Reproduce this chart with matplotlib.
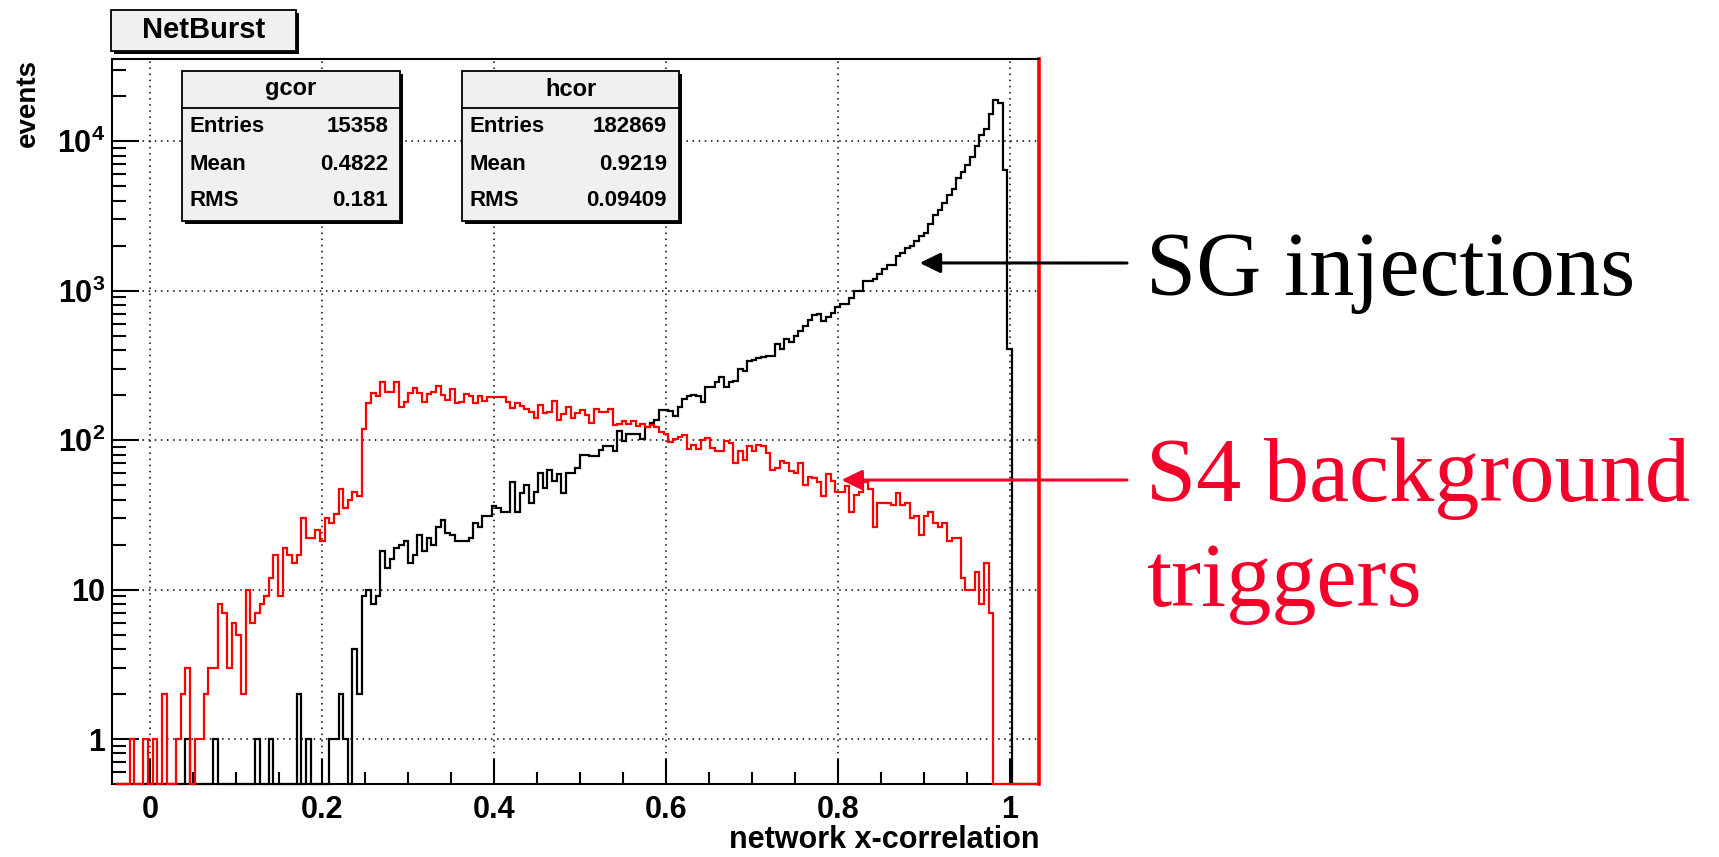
#!/usr/bin/env python3
"""NetBurst network x-correlation: SG injections against S4 background triggers."""

import matplotlib

matplotlib.use("Agg")
import matplotlib.pyplot as plt
import numpy as np
from matplotlib.patches import Rectangle
from matplotlib.ticker import FixedFormatter, FixedLocator, LogLocator, MultipleLocator, NullFormatter

W, H = 1719, 857

# 200 bins on [-0.04, 1.04], as booked by the histograms
N_BINS = 200
X_RANGE = (-0.04, 1.04)

# gcor: S4 background triggers, counts starting at bin BG_FIRST
BG_FIRST = 3
BG_COUNTS = [
    1, 0, 0, 1, 0, 1, 0, 2, 0, 0, 1, 2, 3, 0, 1, 1, 2, 3, 3,
    8, 7, 3, 6, 5, 2, 10, 6, 7, 8, 9, 12, 17, 9, 19, 17, 15, 17, 30, 22,
    22, 25, 21, 30, 28, 32, 47, 35, 40, 45, 42,
    119, 177, 206, 198, 243, 211, 211, 243, 166, 181,
    205, 223, 207, 181, 202, 211, 229, 200, 184, 218, 176, 181, 204, 198,
    176, 196, 183, 193, 193, 193, 194, 180, 163, 176, 168, 161, 153, 140,
    172, 152, 153, 182, 137, 149, 167, 141, 151,
    160, 146, 130, 162, 154, 153, 162, 127, 128, 134, 129, 135, 125, 128,
    122, 126, 123, 114, 109, 97, 101, 104, 108, 87, 92, 87,
    100, 103, 88, 84, 84, 98, 95, 70, 84, 74, 91, 84, 93, 91, 82, 63, 65,
    72, 70, 62, 60, 70, 50, 57, 56, 52, 42, 59, 53, 45, 45, 49, 33, 43, 45,
    52, 47, 26, 38, 38, 38, 37, 44, 37, 38, 30, 31, 23, 31, 33, 28, 26, 28,
    21, 22, 22, 12, 10, 10, 13, 8, 15, 7,
]

# hcor: SG injections, counts starting at bin SG_FIRST
SG_FIRST = 15
SG_COUNTS = [
    1, 0, 0, 0, 0, 0, 1, 0, 0, 0, 0, 0, 0, 0, 0, 1, 0, 0, 1, 0, 0, 0, 0, 0,
    2, 0, 1, 0, 0, 0, 0, 1, 1, 2, 1, 0, 4, 2,
    9, 10, 8, 9, 18, 14, 16, 19, 20, 21, 15, 17, 23, 18, 22, 20, 26, 29, 24,
    23, 21, 21, 21, 22, 28, 26, 31, 31, 36, 35, 33, 33, 52, 33, 44, 50, 38,
    45, 60, 48, 63, 53, 59, 44, 60, 60, 65, 80, 80, 78, 78, 86, 91, 91, 84,
    115, 98, 110, 110, 110, 102, 123, 130, 137, 160, 160, 157, 145, 167,
    188, 197, 200, 197, 181, 227,
    228, 243, 263, 228, 243, 250, 299, 290, 337, 345, 352, 361, 365, 365,
    439, 405, 474, 455, 500, 540, 583, 631, 681, 699, 623, 670, 705, 781,
    814, 814, 893, 1000, 1000, 1166, 1166, 1197, 1293, 1396, 1493, 1493,
    1715, 1778, 1931, 2001, 2150, 2300, 2421, 2767, 3178, 3433, 3845, 4327,
    4798, 5681, 6198, 6870, 7815, 9210, 10910, 12100, 15240, 18900, 17960,
    6370, 405,
]

STAT_ROWS = ["Entries", "Mean", "RMS"]
GCOR_STATS = ["15358", "0.4822", "0.181"]
HCOR_STATS = ["182869", "0.9219", "0.09409"]

X_TICKS = [0, 0.2, 0.4, 0.6, 0.8, 1.0]
X_TICK_LABELS = ["0", "0.2", "0.4", "0.6", "0.8", "1"]
Y_TICKS = [1, 10, 100, 1000, 10000]
Y_TICK_LABELS = ["1", "10", r"10$^{\mathrm{2}}$", r"10$^{\mathrm{3}}$", r"10$^{\mathrm{4}}$"]

# arrow tips (data coords) for the two callouts
SG_ARROW_TIP = (0.895, 1530)
BG_ARROW_TIP = (0.804, 54)

Y_MIN, Y_MAX = 0.5, 3.54e4
LABEL_RED = "#f5002a"

plt.rcParams["font.family"] = ["Liberation Sans", "DejaVu Sans"]
plt.rcParams["font.weight"] = "bold"
plt.rcParams["axes.labelweight"] = "bold"
plt.rcParams["mathtext.fontset"] = "custom"
plt.rcParams["mathtext.rm"] = "Liberation Sans"
plt.rcParams["mathtext.bf"] = "Liberation Sans:bold"


def fxy(x, y):
    """pixel position (top-left origin) -> figure fraction"""
    return x / W, 1 - y / H


def fill_bins(first, counts):
    h = np.zeros(N_BINS)
    h[first:first + len(counts)] = counts
    return h


def pave(fig, x0, y0, x1, y1):
    sx, sy = fxy(x0 + 3, y1 + 3)
    fig.add_artist(Rectangle((sx, sy), (x1 - x0) / W, (y1 - y0) / H,
                             transform=fig.transFigure, facecolor="black",
                             edgecolor="none", zorder=5))
    bx, by = fxy(x0, y1)
    fig.add_artist(Rectangle((bx, by), (x1 - x0) / W, (y1 - y0) / H,
                             transform=fig.transFigure, facecolor="#f0f0f0",
                             edgecolor="black", linewidth=1.3, zorder=6))


def stat_box(fig, x0, x1, name, values):
    top, sep, bottom = 71, 108, 221
    pave(fig, x0, top, x1, bottom)
    fig.add_artist(plt.Line2D([x0 / W, x1 / W], [1 - sep / H] * 2,
                              transform=fig.transFigure, color="black",
                              linewidth=1.3, zorder=7))
    fig.text(*fxy((x0 + x1) / 2, 89), name, ha="center", va="center",
             fontsize=17, zorder=8)
    for row, val, yc in zip(STAT_ROWS, values, [127, 164, 201]):
        fig.text(*fxy(x0 + 7, yc), row, ha="left", va="center", fontsize=16, zorder=8)
        fig.text(*fxy(x1 - 12, yc), val, ha="right", va="center", fontsize=16, zorder=8)


edges = np.linspace(X_RANGE[0], X_RANGE[1], N_BINS + 1)
bg = fill_bins(BG_FIRST, BG_COUNTS)
sg = fill_bins(SG_FIRST, SG_COUNTS)

fig = plt.figure(figsize=(W / 100, H / 100), dpi=100)
left, top, right, bottom = 112, 59, 1039, 784
ax = fig.add_axes([left / W, 1 - bottom / H, (right - left) / W, (bottom - top) / H])
ax.set_yscale("log")
ax.set_xlim((left - 150) / 860, (right - 150) / 860)
ax.set_ylim(Y_MIN, Y_MAX)

# empty bins sit on the lower frame edge
clip = Rectangle((0, -0.02), 1, 1.04, transform=ax.transAxes)
for h, col in [(sg, "black"), (bg, "#ff0000")]:
    st = ax.stairs(np.where(h > 0, h, Y_MIN), edges, color=col, linewidth=1.6,
                   baseline=None, zorder=3)
    st.set_clip_path(clip)

ax.grid(True, which="major", color="black", linestyle=(0, (1, 3)), linewidth=1.1)
ax.set_axisbelow(True)

ax.xaxis.set_major_locator(FixedLocator(X_TICKS))
ax.xaxis.set_major_formatter(FixedFormatter(X_TICK_LABELS))
ax.xaxis.set_minor_locator(MultipleLocator(0.05))
ax.yaxis.set_major_locator(FixedLocator(Y_TICKS))
ax.yaxis.set_major_formatter(FixedFormatter(Y_TICK_LABELS))
ax.yaxis.set_minor_locator(LogLocator(base=10, subs=np.arange(2, 10)))
ax.yaxis.set_minor_formatter(NullFormatter())

ax.tick_params(which="both", direction="in", top=False, right=False, width=1.5,
               labelsize=22)
ax.tick_params(axis="x", which="major", length=18, pad=8)
ax.tick_params(axis="x", which="minor", length=9)
ax.tick_params(axis="y", which="major", length=19.5, pad=5)
ax.tick_params(axis="y", which="minor", length=10)

for side in ["left", "top", "bottom"]:
    ax.spines[side].set_linewidth(1.5)
ax.spines["right"].set_color("#ff0000")
ax.spines["right"].set_linewidth(2.6)

ax.set_xlabel("network x-correlation", loc="right", fontsize=22, labelpad=0)
ax.set_ylabel("events", loc="top", fontsize=20)
ax.yaxis.set_label_coords(-0.077, 1.0)

# title pave and the two stat boxes
pave(fig, 111, 10, 296, 51)
fig.text(*fxy(203.5, 30), "NetBurst", ha="center", va="center", fontsize=21, zorder=8)
stat_box(fig, 182, 400, "gcor", GCOR_STATS)
stat_box(fig, 462, 679, "hcor", HCOR_STATS)

# callouts
serif = ["Liberation Serif", "DejaVu Serif"]
for tip, ypix, col in [(SG_ARROW_TIP, 263, "black"), (BG_ARROW_TIP, 480, LABEL_RED)]:
    ax.annotate("", xy=tip, xycoords="data", xytext=(1127, H - ypix),
                textcoords="figure pixels", annotation_clip=False,
                arrowprops=dict(arrowstyle="-|>,head_length=0.45,head_width=0.22",
                                color=col, lw=2.2, shrinkA=0, shrinkB=0,
                                mutation_scale=28))
fig.text(*fxy(1146, 295), "SG injections", family=serif, fontweight="normal",
         fontsize=65, ha="left", va="baseline")
fig.text(*fxy(1146, 501), "S4 background", family=serif, fontweight="normal",
         fontsize=65, ha="left", va="baseline", color=LABEL_RED)
fig.text(*fxy(1146, 606), "triggers", family=serif, fontweight="normal",
         fontsize=65, ha="left", va="baseline", color=LABEL_RED)

fig.savefig("out.png", dpi=100, facecolor="white")
